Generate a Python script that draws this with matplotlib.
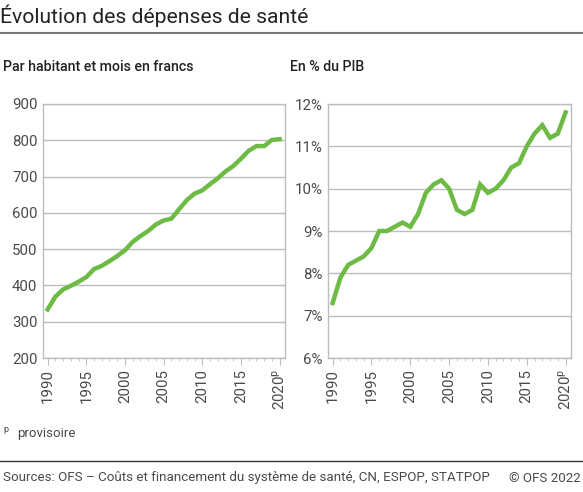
import numpy as np
import matplotlib.pyplot as plt
from matplotlib.ticker import MultipleLocator, FuncFormatter

plt.rcParams['font.family'] = ['Roboto', 'DejaVu Sans']
plt.rcParams['mathtext.fontset'] = 'custom'
plt.rcParams['mathtext.rm'] = 'Roboto'

# ========================
# DATA
# ========================
years = list(range(1990, 2021))
chf_per_month = [334, 369, 389, 399, 410, 423, 445, 454, 467, 481,
                 497, 520, 536, 550, 568, 579, 584, 610, 635, 653,
                 662, 679, 695, 714, 729, 749, 771, 784, 784, 801, 803]
pct_gdp = [7.3, 7.9, 8.2, 8.3, 8.4, 8.6, 9.0, 9.0, 9.1, 9.2,
           9.1, 9.4, 9.9, 10.1, 10.2, 10.0, 9.5, 9.4, 9.5, 10.1,
           9.9, 10.0, 10.2, 10.5, 10.6, 11.0, 11.3, 11.5, 11.2, 11.3, 11.8]

title = "Évolution des dépenses de santé"
sub_left = "Par habitant et mois en francs"
sub_right = "En % du PIB"
source = "Sources: OFS – Coûts et financement du système de santé, CN, ESPOP, STATPOP"

GREEN = '#6dbb45'
GRID = '#bdbdbd'
TXT = '#4a4a4a'

W, H = 583, 492
fig = plt.figure(figsize=(W / 100, H / 100), dpi=100)


def box(x0, y0, x1, y1):
    """pixel box (top-left origin) -> figure coords"""
    return [x0 / W, 1 - y1 / H, (x1 - x0) / W, (y1 - y0) / H]


def year_label(v, pos):
    v = int(round(v))
    if v == 2020:
        return r'$\mathrm{2020}^{\mathrm{p}}$'
    return str(v)


def style_axes(ax, ylim, ystep, yfmt):
    ax.set_xlim(1989.4, 2020.7)
    ax.set_ylim(*ylim)
    ax.yaxis.set_major_locator(MultipleLocator(ystep))
    ax.yaxis.set_major_formatter(FuncFormatter(yfmt))
    ax.xaxis.set_major_locator(MultipleLocator(5))
    ax.xaxis.set_minor_locator(MultipleLocator(1))
    ax.xaxis.set_major_formatter(FuncFormatter(year_label))
    ax.grid(axis='y', color=GRID, linewidth=1.0)
    ax.set_axisbelow(True)
    for s in ax.spines.values():
        s.set_color(GRID)
        s.set_linewidth(1.0)
    ax.tick_params(axis='y', length=0, pad=4, labelsize=10.8, labelcolor=TXT)
    ax.tick_params(axis='x', which='major', length=5, color=GRID, pad=3,
                   labelsize=10.8, labelcolor=TXT, labelrotation=90)
    ax.tick_params(axis='x', which='minor', length=2.5, color=GRID)


ax1 = fig.add_axes(box(43, 104, 285, 358))
ax1.plot(years, chf_per_month, color=GREEN, linewidth=3.2, solid_joinstyle='miter')
style_axes(ax1, (200, 900), 100, lambda v, p: f"{int(v)}")

ax2 = fig.add_axes(box(328, 104, 571, 358))
ax2.plot(years, pct_gdp, color=GREEN, linewidth=3.2, solid_joinstyle='miter')
style_axes(ax2, (6, 12), 1, lambda v, p: f"{int(round(v))}%")

# titles
fig.text(0 / W, 1 - 16 / H, title, fontsize=15.2, color='#222222', va='center', ha='left')
fig.add_artist(plt.Line2D([0, 1], [1 - 33 / H, 1 - 33 / H], color='#777777', linewidth=1.5))
fig.text(3 / W, 1 - 67 / H, sub_left, fontsize=10.2, fontweight='medium', color='#222222', va='center')
fig.text(290 / W, 1 - 67 / H, sub_right, fontsize=10.2, fontweight='medium', color='#222222', va='center')

# footnote
fig.text(3 / W, 1 - 429 / H, "p", fontsize=6.5, color=TXT, va='center')
fig.text(17 / W, 1 - 433 / H, "provisoire", fontsize=9.5, color=TXT, va='center')

# footer
fig.add_artist(plt.Line2D([0, 1], [1 - 461 / H, 1 - 461 / H], color='#333333', linewidth=1.0))
fig.text(3 / W, 1 - 478 / H, source, fontsize=9.6, color=TXT, va='center')
fig.text(581 / W, 1 - 478 / H, "© OFS 2022", fontsize=9.6, color=TXT, va='center', ha='right')

fig.savefig('out.png', dpi=100)
